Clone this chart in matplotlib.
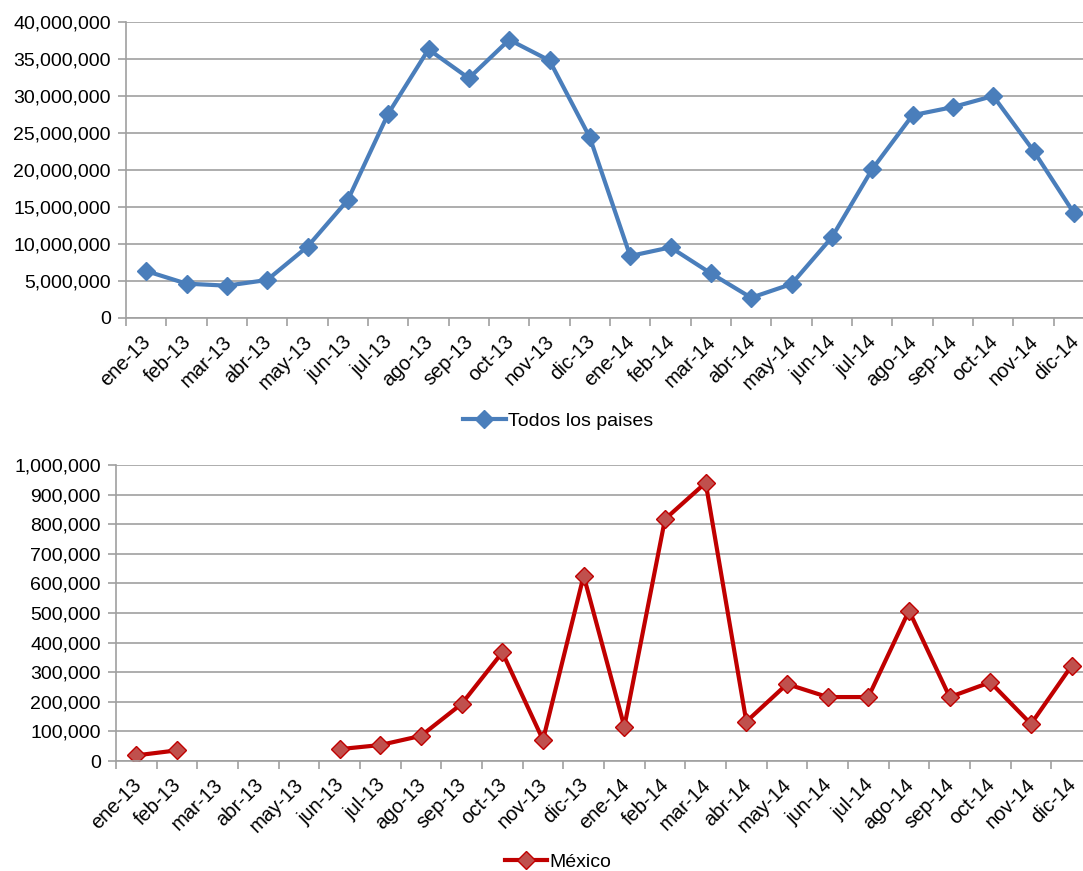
import numpy as np
import matplotlib.pyplot as plt
import matplotlib.transforms as mtransforms
from matplotlib.ticker import FuncFormatter, MultipleLocator

plt.rcParams['font.family'] = ['Liberation Sans', 'DejaVu Sans']

meses = ["ene-13", "feb-13", "mar-13", "abr-13", "may-13", "jun-13", "jul-13", "ago-13",
         "sep-13", "oct-13", "nov-13", "dic-13", "ene-14", "feb-14", "mar-14", "abr-14",
         "may-14", "jun-14", "jul-14", "ago-14", "sep-14", "oct-14", "nov-14", "dic-14"]

todos = [6350000, 4640000, 4370000, 5140000, 9640000, 15950000, 27600000, 36300000,
         32400000, 37600000, 34800000, 24400000, 8380000, 9550000, 6040000, 2740000,
         4590000, 10900000, 20100000, 27400000, 28500000, 30000000, 22600000, 14200000]

mexico = [19000, 36000, np.nan, np.nan, np.nan, 40000, 54000, 85000,
          193000, 367000, 71000, 626000, 116000, 817000, 940000, 133000,
          260000, 216000, 216000, 508000, 216000, 266000, 125000, 322000]

W, H = 1083, 871
fig = plt.figure(figsize=(W / 100, H / 100), dpi=100)

fmt = FuncFormatter(lambda v, p: f"{v:,.0f}")
x = np.arange(len(meses))
desplaza = mtransforms.ScaledTranslation(-5 / 100, 0, fig.dpi_scale_trans)


def estilo(ax, ymax, paso):
    ax.set_xlim(-0.5, len(meses) - 0.5)
    ax.set_ylim(0, ymax)
    ax.yaxis.set_major_locator(MultipleLocator(paso))
    ax.yaxis.set_major_formatter(fmt)
    ax.grid(axis='y', color='#a0a0a0', linewidth=1.2)
    ax.set_axisbelow(True)
    for s in ['top', 'right']:
        ax.spines[s].set_visible(False)
    for s in ['left', 'bottom']:
        ax.spines[s].set_color('#a0a0a0')
        ax.spines[s].set_linewidth(1.2)
    ax.set_xticks(x)
    ax.set_xticklabels(meses, rotation=45, ha='right', rotation_mode='anchor')
    ax.set_xticks(np.arange(-0.5, len(meses)), minor=True)
    ax.tick_params(axis='x', which='major', length=0, pad=10, labelsize=14.5)
    ax.tick_params(axis='x', which='minor', length=6, color='#a0a0a0', width=1.2)
    ax.tick_params(axis='y', length=6, color='#a0a0a0', width=1.2, labelsize=14, pad=5)
    for t in ax.get_xticklabels():
        t.set_transform(t.get_transform() + desplaza)


ax1 = fig.add_axes([126 / W, 1 - 318 / H, (1094 - 126) / W, 296 / H])
estilo(ax1, 40000000, 5000000)
ax1.plot(x, todos, color='#4a7ebb', linewidth=3, marker='D', markersize=9,
         markerfacecolor='#4a7ebb', markeredgecolor='#4a7ebb', label='Todos los paises')
fig.legend(handles=ax1.get_lines(), loc='center', bbox_to_anchor=(558 / W, 1 - 421 / H),
           frameon=False, fontsize=14, handlelength=2.2, handletextpad=0.1)

ax2 = fig.add_axes([116 / W, 1 - 761 / H, (1092 - 116) / W, 296 / H])
estilo(ax2, 1000000, 100000)
ax2.plot(x, mexico, color='#c00000', linewidth=3, marker='D', markersize=9,
         markerfacecolor='#c0504d', markeredgecolor='#c00000', markeredgewidth=1,
         label='México')
fig.legend(handles=ax2.get_lines(), loc='center', bbox_to_anchor=(558 / W, 1 - 862 / H),
           frameon=False, fontsize=14, handlelength=2.2, handletextpad=0.1)

fig.savefig("out.png", dpi=100)
